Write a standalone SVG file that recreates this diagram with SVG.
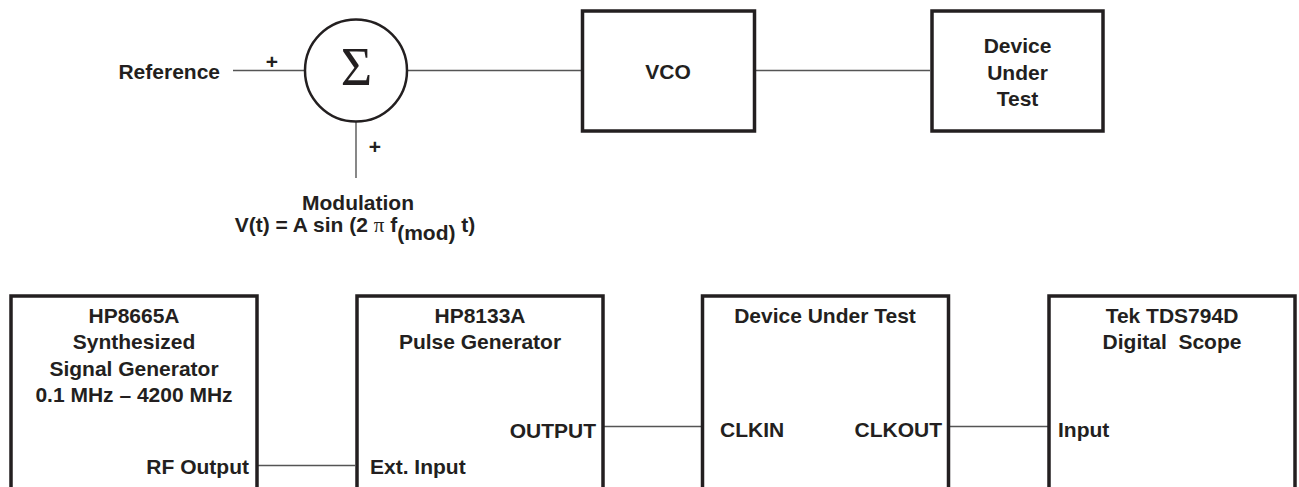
<svg xmlns="http://www.w3.org/2000/svg" width="1299" height="487" viewBox="0 0 1299 487">
<style>
.box{fill:#fff;stroke:#231f20;stroke-width:3.5}
.wire{stroke:#555;stroke-width:1.4;fill:none}
.t{font-family:"Liberation Sans",Arial,sans-serif;font-weight:bold;font-size:21px;fill:#231f20}
.c{text-anchor:middle}
.e{text-anchor:end}
.pl{font-family:"Liberation Sans",Arial,sans-serif;font-weight:bold;font-size:21px;fill:#231f20;text-anchor:middle}
</style>
<rect width="1299" height="487" fill="#fff"/>
<g id="connectors">
<line class="wire" x1="233" y1="70.5" x2="304" y2="70.5"/>
<line class="wire" x1="356" y1="122" x2="356" y2="178"/>
<line class="wire" x1="408" y1="70.5" x2="581" y2="70.5"/>
<line class="wire" x1="756" y1="70.5" x2="930" y2="70.5"/>
<line class="wire" x1="258" y1="465.5" x2="355" y2="465.5"/>
<line class="wire" x1="604" y1="426.5" x2="701" y2="426.5"/>
<line class="wire" x1="950" y1="426.5" x2="1048" y2="426.5"/>
</g>
<g id="reference">
<text class="t e" x="220" y="79">Reference</text>
<text class="pl" x="272" y="69">+</text>
</g>
<g id="summer">
<circle cx="356" cy="70.5" r="51" fill="#fff" stroke="#231f20" stroke-width="2.5"/>
<text x="356.5" y="85" font-family="Liberation Serif,serif" font-size="54" fill="#231f20" text-anchor="middle">Σ</text>
<text class="pl" x="375" y="154">+</text>
</g>
<g id="modulation">
<text class="t c" x="358" y="210">Modulation</text>
<text class="t c" x="355" y="232">V(t) = A sin (2 <tspan font-family="Liberation Serif,serif" font-weight="normal">π</tspan> f<tspan dy="8">(mod)</tspan><tspan dy="-8"> t)</tspan></text>
</g>
<g id="vco">
<rect class="box" x="582.5" y="11" width="172" height="120"/>
<text class="t c" x="668" y="79">VCO</text>
</g>
<g id="dut-top">
<rect class="box" x="932" y="11" width="171" height="120"/>
<text class="t c" x="1017.5" y="53">Device</text>
<text class="t c" x="1017.5" y="80">Under</text>
<text class="t c" x="1017.5" y="106">Test</text>
</g>
<g id="hp8665a">
<rect class="box" x="11" y="296" width="246" height="220"/>
<text class="t c" x="134" y="323">HP8665A</text>
<text class="t c" x="134" y="349">Synthesized</text>
<text class="t c" x="134" y="376">Signal Generator</text>
<text class="t c" x="134" y="402">0.1 MHz – 4200 MHz</text>
<text class="t e" x="249" y="474">RF Output</text>
</g>
<g id="hp8133a">
<rect class="box" x="357" y="296" width="246" height="220"/>
<text class="t c" x="480" y="323">HP8133A</text>
<text class="t c" x="480" y="349">Pulse Generator</text>
<text class="t e" x="596" y="438">OUTPUT</text>
<text class="t" x="370" y="474">Ext. Input</text>
</g>
<g id="dut">
<rect class="box" x="702.5" y="296" width="246" height="220"/>
<text class="t c" x="825" y="323">Device Under Test</text>
<text class="t" x="720" y="437">CLKIN</text>
<text class="t e" x="942" y="437">CLKOUT</text>
</g>
<g id="scope">
<rect class="box" x="1049" y="296" width="246" height="220"/>
<text class="t c" x="1172" y="323">Tek TDS794D</text>
<text class="t c" x="1172" y="349" xml:space="preserve">Digital  Scope</text>
<text class="t" x="1058" y="437">Input</text>
</g>
</svg>
